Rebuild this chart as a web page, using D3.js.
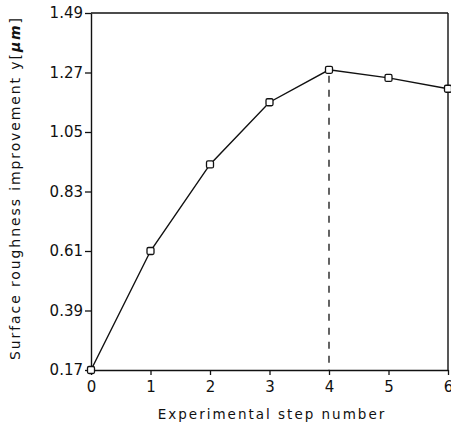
<!DOCTYPE html>
<html><head><meta charset="utf-8">
<script src="https://cdn.jsdelivr.net/npm/d3@7"></script>
<style>body{margin:0;background:#fff}svg{display:block}text{font-family:"DejaVu Sans",sans-serif;fill:#111}</style>
</head><body><svg id="c" width="451" height="440"></svg>
<script>
const steps = [0,1,2,3,4,5,6];
const values = [0.17,0.61,0.93,1.16,1.28,1.25,1.21];
const yTicks = [0.17,0.39,0.61,0.83,1.05,1.27,1.49];
const xTicks = [0,1,2,3,4,5,6];
const optimumStep = 4;

const svg = d3.select("#c");
const m = {l:91, r:3, t:13, b:70};
const W = 451, H = 440;
const x = d3.scaleLinear().domain([0,6]).range([m.l, W-m.r]);
const y = d3.scaleLinear().domain([0.17,1.49]).range([H-m.b, m.t]);
const col = "#111";

// frame top and right
svg.append("line").attr("x1",x(0)).attr("x2",x(6)).attr("y1",y(1.49)).attr("y2",y(1.49)).attr("stroke",col).attr("stroke-width",1.4);
svg.append("line").attr("x1",x(6)).attr("x2",x(6)).attr("y1",y(1.49)).attr("y2",y(0.17)).attr("stroke",col).attr("stroke-width",1.4);

const ax = svg.append("g").attr("transform",`translate(0,${y(0.17)})`)
  .call(d3.axisBottom(x).tickValues(xTicks).tickFormat(d3.format("d")).tickSize(5).tickSizeOuter(0));
const ay = svg.append("g").attr("transform",`translate(${x(0)},0)`)
  .call(d3.axisLeft(y).tickValues(yTicks).tickFormat(d3.format(".2f")).tickSize(6).tickSizeOuter(0));
[ax,ay].forEach(g=>{
  g.select(".domain").attr("stroke",col).attr("stroke-width",1.4);
  g.selectAll(".tick line").attr("stroke",col).attr("stroke-width",1.3);
  g.selectAll(".tick text").style("font-size","15px").attr("fill",col);
});
ax.selectAll(".tick text").attr("dy","0.95em");
ay.selectAll(".tick text").attr("x",-8);

// dashed line at optimum
svg.append("line").attr("x1",x(optimumStep)).attr("x2",x(optimumStep))
  .attr("y1",y(values[optimumStep])+6).attr("y2",y(0.17))
  .attr("stroke",col).attr("stroke-width",1.3).attr("stroke-dasharray","7,7");

const line = d3.line().x((d,i)=>x(steps[i])).y(d=>y(d));
svg.append("path").datum(values).attr("d",line).attr("fill","none").attr("stroke",col).attr("stroke-width",1.4);

svg.selectAll("rect.pt").data(values).enter().append("rect").attr("class","pt")
  .attr("x",(d,i)=>x(steps[i])-3.5).attr("y",d=>y(d)-3.5).attr("width",7).attr("height",7)
  .attr("rx",1.5).attr("fill","#fff").attr("stroke",col).attr("stroke-width",1.3);

svg.append("text").attr("x",272).attr("y",419).attr("text-anchor","middle")
  .style("font-size","13.5px").style("letter-spacing","2px").text("Experimental step number");

const yt = svg.append("text").attr("transform",`translate(20,188) rotate(-90)`)
  .attr("text-anchor","middle").style("font-size","14px").style("letter-spacing","1.9px");
yt.append("tspan").text("Surface roughness improvement y[");
yt.append("tspan").style("font-style","italic").style("font-weight","bold").text("μm");
yt.append("tspan").text("]");
</script></body></html>
